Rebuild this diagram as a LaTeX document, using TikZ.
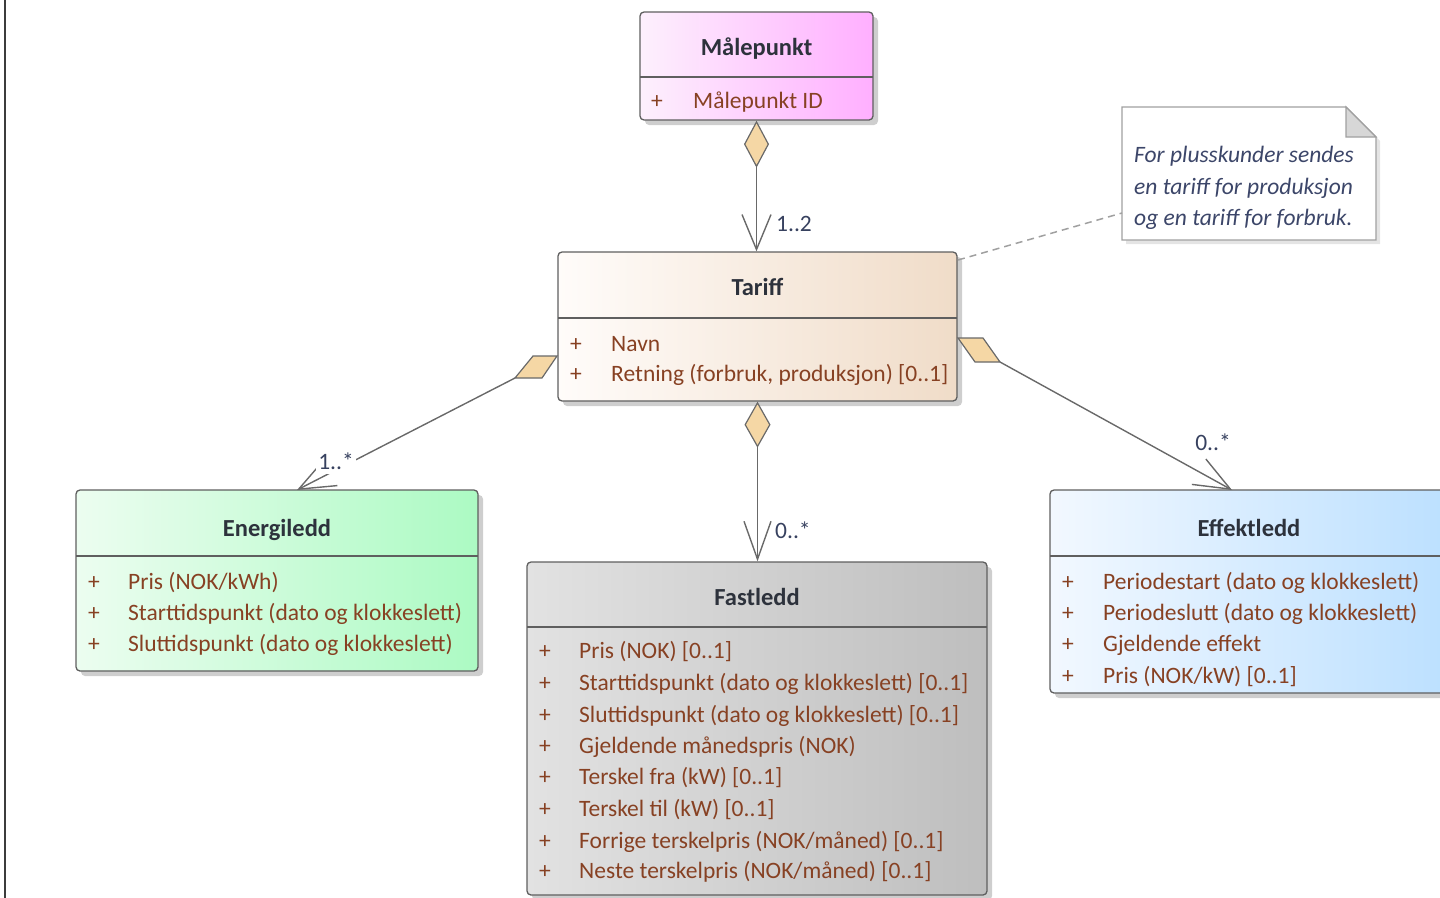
\documentclass[tikz,border=0pt]{standalone}
\usepackage{fontspec}
\setmainfont{Carlito}
\usetikzlibrary{arrows.meta,shadows,calc}
\definecolor{boxline}{RGB}{95,95,95}
\definecolor{conncol}{RGB}{105,105,105}
\definecolor{titlecol}{RGB}{45,50,60}
\definecolor{attrcol}{RGB}{135,65,35}
\definecolor{labcol}{RGB}{55,65,95}
\definecolor{notecol}{RGB}{60,70,105}
\definecolor{notebrd}{RGB}{160,160,160}
\definecolor{fold}{RGB}{215,215,215}
\definecolor{dia}{RGB}{245,215,165}
\definecolor{mL}{RGB}{253,240,253}\definecolor{mR}{RGB}{255,175,255}
\definecolor{tL}{RGB}{255,252,250}\definecolor{tR}{RGB}{240,220,200}
\definecolor{eL}{RGB}{236,253,240}\definecolor{eR}{RGB}{172,250,195}
\definecolor{fL}{RGB}{226,226,226}\definecolor{fR}{RGB}{190,190,190}
\definecolor{kL}{RGB}{242,248,255}\definecolor{kR}{RGB}{188,224,255}
\definecolor{framecol}{RGB}{60,60,60}
\begin{document}
\begin{tikzpicture}[x=1pt,y=-1pt,
  box/.style={draw=boxline, line width=1.3pt, rounded corners=4pt, inner sep=0pt,
    drop shadow={shadow xshift=5pt,shadow yshift=-5pt,opacity=.35,fill=black!55}},
  divider/.style={draw=boxline, line width=1.3pt},
  title/.style={font=\fontsize{24.5}{28}\selectfont\bfseries, text=titlecol, inner sep=0pt, text height=18pt, text depth=2pt},
  plus/.style={font=\fontsize{23.5}{28}\selectfont, text=attrcol, anchor=west, inner sep=0pt, text height=21pt, text depth=4pt},
  attr/.style={font=\fontsize{23.5}{28}\selectfont, text=attrcol, anchor=west, inner sep=0pt, text height=21pt, text depth=4pt},
  mult/.style={font=\fontsize{23.5}{28}\selectfont, text=labcol, inner sep=1pt, text height=17pt, text depth=2pt},
  notetxt/.style={font=\fontsize{23.5}{28}\selectfont\itshape, text=notecol, anchor=west, inner sep=0pt, text height=19pt, text depth=4pt},
  conn/.style={draw=conncol, line width=1.4pt},
  head/.style={-{Straight Barb[length=36pt,width=29pt,line width=1.4pt]}},
  diamondshape/.style={draw=conncol, fill=dia, line width=1.2pt, line join=miter}
]
\useasboundingbox (0,0) rectangle (1440,897);
\draw[framecol, line width=2pt] (5,-2) -- (5,899);

% ---------- Målepunkt
\node[box, left color=mL, right color=mR, minimum width=233pt, minimum height=108pt] (malepunkt) at (756.5,66) {};
\draw[divider] (640,77) -- (873,77);
\node[title] (malepunktT) at (756.5,47) {Målepunkt};
\node[plus] (mp1) at (651,100) {+};
\node[attr] (ma1) at (693,100) {Målepunkt ID};

% ---------- Tariff
\node[box, left color=tL, right color=tR, minimum width=399pt, minimum height=149pt] (tariff) at (757.5,326.5) {};
\draw[divider] (558,318) -- (957,318);
\node[title] (tariffT) at (757.5,287) {Tariff};
\node[plus] (tp1) at (570,343) {+};
\node[attr] (ta1) at (611,343) {Navn};
\node[plus] (tp2) at (570,373) {+};
\node[attr] (ta2) at (611,373) {Retning (forbruk, produksjon) [0..1]};

% ---------- Energiledd
\node[box, left color=eL, right color=eR, minimum width=402pt, minimum height=181pt] (energiledd) at (277,580.5) {};
\draw[divider] (76,556) -- (478,556);
\node[title] (energileddT) at (277,528) {Energiledd};
\node[plus] (ep1) at (88,581) {+};
\node[attr] (ea1) at (128,581) {Pris (NOK/kWh)};
\node[plus] (ep2) at (88,612) {+};
\node[attr] (ea2) at (128,612) {Starttidspunkt (dato og klokkeslett)};
\node[plus] (ep3) at (88,643) {+};
\node[attr] (ea3) at (128,643) {Sluttidspunkt (dato og klokkeslett)};

% ---------- Fastledd
\node[box, left color=fL, right color=fR, minimum width=460pt, minimum height=333pt] (fastledd) at (757,728.5) {};
\draw[divider] (527,627) -- (987,627);
\node[title] (fastleddT) at (757,597) {Fastledd};
\node[plus] (fp1) at (539,650) {+};
\node[attr] (fa1) at (579,650) {Pris (NOK) [0..1]};
\node[plus] (fp2) at (539,682) {+};
\node[attr] (fa2) at (579,682) {Starttidspunkt (dato og klokkeslett) [0..1]};
\node[plus] (fp3) at (539,714) {+};
\node[attr] (fa3) at (579,714) {Sluttidspunkt (dato og klokkeslett) [0..1]};
\node[plus] (fp4) at (539,745) {+};
\node[attr] (fa4) at (579,745) {Gjeldende månedspris (NOK)};
\node[plus] (fp5) at (539,776) {+};
\node[attr] (fa5) at (579,776) {Terskel fra (kW) [0..1]};
\node[plus] (fp6) at (539,808) {+};
\node[attr] (fa6) at (579,808) {Terskel til (kW) [0..1]};
\node[plus] (fp7) at (539,840) {+};
\node[attr] (fa7) at (579,840) {Forrige terskelpris (NOK/måned) [0..1]};
\node[plus] (fp8) at (539,870) {+};
\node[attr] (fa8) at (579,870) {Neste terskelpris (NOK/måned) [0..1]};

% ---------- Effektledd
\node[box, left color=kL, right color=kR, minimum width=398pt, minimum height=203pt] (effektledd) at (1249,591.5) {};
\draw[divider] (1050,556) -- (1448,556);
\node[title] (effektleddT) at (1249,528) {Effektledd};
\node[plus] (kp1) at (1062,581) {+};
\node[attr] (ka1) at (1103,581) {Periodestart (dato og klokkeslett)};
\node[plus] (kp2) at (1062,612) {+};
\node[attr] (ka2) at (1103,612) {Periodeslutt (dato og klokkeslett)};
\node[plus] (kp3) at (1062,643) {+};
\node[attr] (ka3) at (1103,643) {Gjeldende effekt};
\node[plus] (kp4) at (1062,675) {+};
\node[attr] (ka4) at (1103,675) {Pris (NOK/kW) [0..1]};

% ---------- Note
\node[minimum width=254pt, minimum height=133pt, inner sep=0pt] (note) at (1249,173.5) {};
\fill[black!30, opacity=.35] (1126,111) -- (1350,111) -- (1380,141) -- (1380,244) -- (1126,244) -- cycle;
\draw[notebrd, fill=white, line width=1.2pt, line join=miter] (1122,107) -- (1346,107) -- (1376,137) -- (1376,240) -- (1122,240) -- cycle;
\draw[notebrd, fill=fold, line width=1.2pt, line join=miter] (1346,107) -- (1346,137) -- (1376,137) -- cycle;
\node[notetxt] (note1) at (1134,155) {For plusskunder sendes};
\node[notetxt] (note2) at (1134,187) {en tariff for produksjon};
\node[notetxt] (note3) at (1134,218) {og en tariff for forbruk.};

% ---------- Connectors
% Malepunkt -> Tariff
\draw[conn, {Diamond[length=47pt,width=25pt,fill=dia,line width=1.2pt]}-{Straight Barb[length=35pt,width=29pt,line width=1.4pt]}]
  (malepunkt.south) -- (malepunkt.south |- tariff.north);
\node[mult, anchor=west] (l12) at (775,224) {1..2};

% Tariff -> Fastledd
\draw[conn, {Diamond[length=46pt,width=26pt,fill=dia,line width=1.2pt]}-{Straight Barb[length=38pt,width=27pt,line width=1.4pt]}]
  (tariff.south) -- (tariff.south |- fastledd.north);
\node[mult, anchor=west] (l0f) at (774,531) {0..*};

% Tariff -> Energiledd
\coordinate (dlA) at (557,356);
\coordinate (dlB) at (533,356);
\coordinate (dlC) at (515,378);
\coordinate (dlD) at (542,378);
\coordinate (etip) at (297,490);
\draw[diamondshape] (dlA) -- (dlB) -- (dlC) -- (dlD) -- cycle;
\draw[conn, head] (dlC) -- (etip);
\node[mult, fill=white, inner sep=2pt] (l1e) at (336,462) {1..*};

% Tariff -> Effektledd
\coordinate (drA) at (958,338);
\coordinate (drB) at (983,338);
\coordinate (drC) at (1000,362);
\coordinate (drD) at (975,362);
\coordinate (ktip) at (1232,490);
\draw[diamondshape] (drA) -- (drB) -- (drC) -- (drD) -- cycle;
\draw[conn, head] (drC) -- (ktip);
\node[mult] (l0k) at (1213,443) {0..*};

% Note link
\coordinate (nl1) at (958,260);
\coordinate (nl2) at (1122,213);
\draw[notebrd, line width=1.5pt, dash pattern=on 7pt off 5pt] (nl1) -- (nl2);
\end{tikzpicture}
\end{document}
